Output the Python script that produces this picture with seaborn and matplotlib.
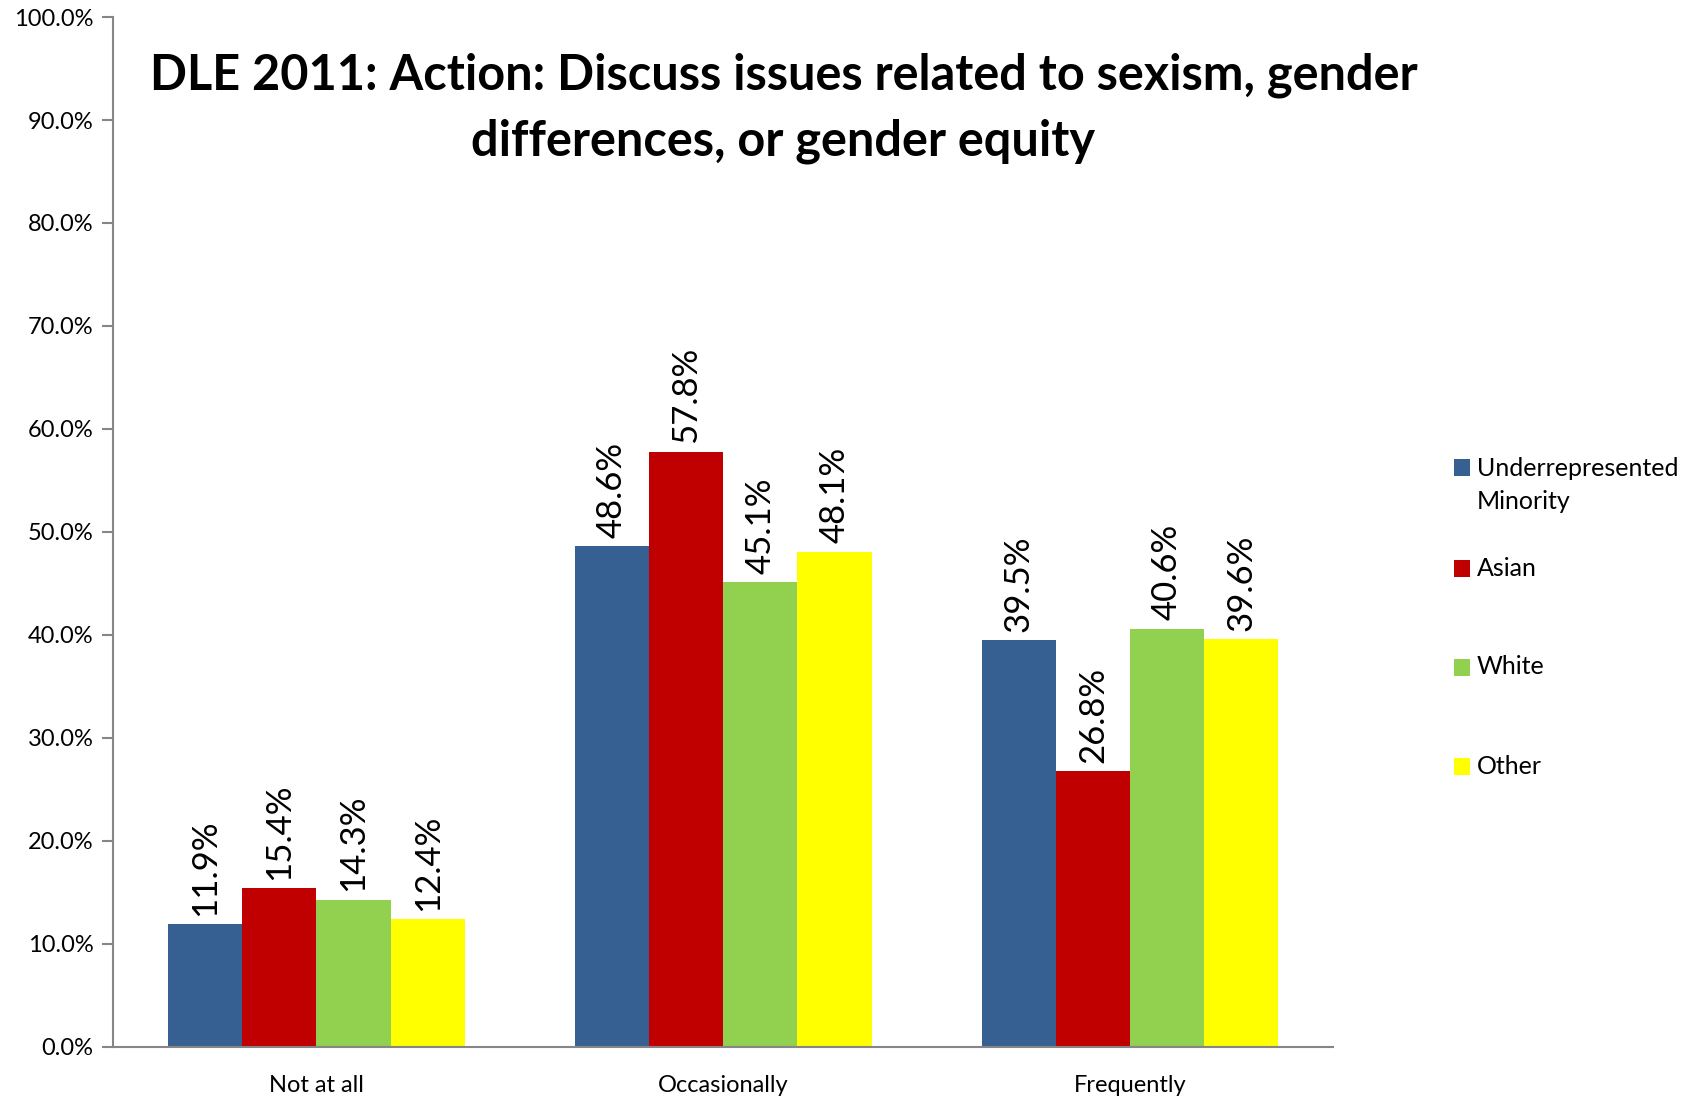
import pandas as pd
import seaborn as sns
import matplotlib.pyplot as plt
from matplotlib.patches import Rectangle
from matplotlib.ticker import PercentFormatter

# Data
categories = ["Not at all", "Occasionally", "Frequently"]
groups = ["Underrepresented Minority", "Asian", "White", "Other"]
urm_vals = [11.9, 48.6, 39.5]
asian_vals = [15.4, 57.8, 26.8]
white_vals = [14.3, 45.1, 40.6]
other_vals = [12.4, 48.1, 39.6]

group_colors = ["#376092", "#C00000", "#92D050", "#FFFF00"]
legend_labels = ["Underrepresented\nMinority", "Asian", "White", "Other"]

# Long format for seaborn
rows = []
for grp, vals in zip(groups, [urm_vals, asian_vals, white_vals, other_vals]):
    for cat, v in zip(categories, vals):
        rows.append({"response": cat, "group": grp, "pct": v})
df = pd.DataFrame(rows)

sns.set_style("white")
plt.rcParams["font.family"] = ["Lato", "DejaVu Sans"]
plt.rcParams["text.color"] = "black"
plt.rcParams["xtick.color"] = "black"
plt.rcParams["ytick.color"] = "black"

W, H = 1690, 1097
fig = plt.figure(figsize=(W / 100, H / 100), dpi=100)
ax = fig.add_axes([0.0669, 0.0456, 0.789 - 0.0669, 0.9845 - 0.0456])

sns.barplot(data=df, x="response", y="pct", hue="group", order=categories,
            hue_order=groups, palette=group_colors, saturation=1,
            width=0.73, gap=0, ax=ax, legend=False, linewidth=0)

# Value labels, rotated, above each bar
for container in ax.containers:
    for bar in container:
        h = bar.get_height()
        ax.annotate(f"{h:.1f}%", (bar.get_x() + bar.get_width() / 2, h),
                    xytext=(0, 6), textcoords="offset points",
                    ha="center", va="bottom", rotation=90, fontsize=25)

ax.set_ylim(0, 100)
ax.set_xlim(-0.5, 2.5)
ax.set_yticks(range(0, 101, 10))
ax.yaxis.set_major_formatter(PercentFormatter(decimals=1))
ax.set_xlabel("")
ax.set_ylabel("")

# category boundary ticks on x
ax.set_xticks([-0.5, 0.5, 1.5, 2.5], minor=True)
ax.tick_params(axis="x", which="major", length=0, labelsize=17, pad=20)
ax.tick_params(axis="x", which="minor", length=8, width=1.5, color="#868686", direction="out")
ax.tick_params(axis="y", length=8, width=1.5, color="#868686", labelsize=17,
               labelcolor="black", direction="out", pad=6, left=True)
ax.tick_params(axis="x", labelcolor="black")

for side in ["top", "right"]:
    ax.spines[side].set_visible(False)
for side in ["left", "bottom"]:
    ax.spines[side].set_color("#868686")
    ax.spines[side].set_linewidth(1.5)

fig.text(0.4635, 1 - 108 / H,
         "DLE 2011: Action: Discuss issues related to sexism, gender\ndifferences, or gender equity",
         ha="center", va="center", fontsize=35, fontweight="bold", linespacing=1.55)

# Legend drawn by hand so that the swatch lines up with the first text line
legend_y = [468, 568, 667, 766]
for lab, col, yc in zip(legend_labels, group_colors, legend_y):
    fig.add_artist(Rectangle((1454 / W, 1 - (yc + 8.5) / H), 16 / W, 17 / H,
                             transform=fig.transFigure, color=col, lw=0))
    n_lines = lab.count("\n") + 1
    ty = yc + (n_lines - 1) * 17
    fig.text(1477 / W, 1 - ty / H, lab, ha="left", va="center",
             fontsize=18, linespacing=1.57)

fig.savefig("out.png", dpi=100)
